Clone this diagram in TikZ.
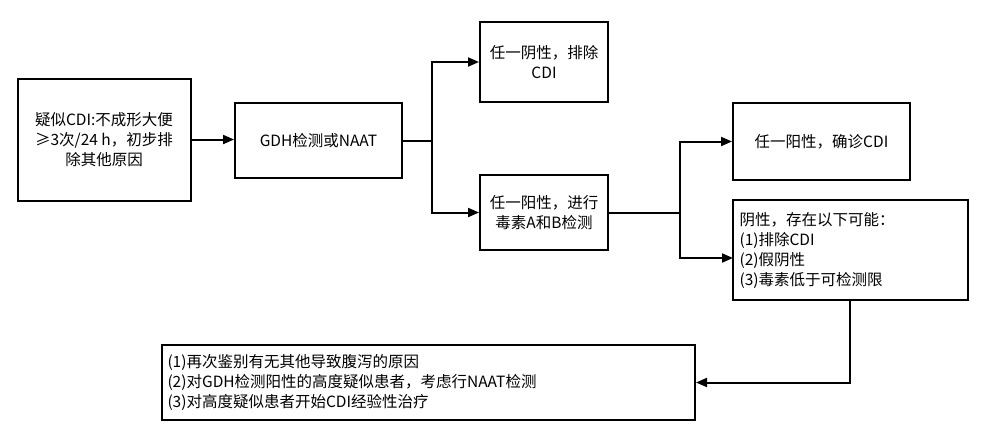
\documentclass[tikz,border=0pt]{standalone}
\usepackage{fontspec}
\setmainfont{Noto Sans CJK SC}
\usetikzlibrary{arrows.meta}
\begin{document}
\begin{tikzpicture}[x=1pt,y=-1pt,
 box/.style={draw,line width=2pt,inner sep=0pt,font=\fontsize{15.5}{20}\selectfont,align=center},
 ln/.style={line width=2pt},
 ar/.style={ln,-{Triangle[length=11pt,width=9pt]}}]
\useasboundingbox (0,0) rectangle (984,439);
\node[box,minimum width=173pt,minimum height=122pt] (a) at (104,139.5) {疑似CDI:不成形大便\\≥3次/24 h，初步排\\除其他原因};
\node[box,minimum width=167pt,minimum height=75pt] (b) at (318.5,140.5) {GDH检测或NAAT};
\node[box,minimum width=128pt,minimum height=80pt] (c) at (544,62) {任一阴性，排除\\CDI};
\node[box,minimum width=128pt,minimum height=75pt] (d) at (544,212.5) {任一阳性，进行\\毒素A和B检测};
\node[box,minimum width=177pt,minimum height=77pt] (e) at (821.5,141.5) {任一阳性，确诊CDI};
\node[box,minimum width=235pt,minimum height=100pt,align=left,text width=222pt] (f) at (850.5,250) {阴性，存在以下可能：\\(1)排除CDI\\(2)假阴性\\(3)毒素低于可检测限};
\node[box,minimum width=533pt,minimum height=75pt,align=left,text width=522pt] (g) at (428.5,382.5) {(1)再次鉴别有无其他导致腹泻的原因\\(2)对GDH检测阳性的高度疑似患者，考虑行NAAT检测\\(3)对高度疑似患者开始CDI经验性治疗};
\draw[ar] (a.east) -- (b.west |- a.east);
\coordinate (j1) at (432,140.5);
\draw[ln] (b.east) -- (j1);
\draw[ar] (j1) |- (c.west);
\draw[ar] (j1) |- (d.west);
\coordinate (j2) at (680,212.5);
\draw[ln] (d.east) -- (j2);
\draw[ar] (j2) |- (e.west);
\draw[ar] (j2) |- (733,258);
\draw[ar] (850,300) |- (g.east);
\end{tikzpicture}
\end{document}
